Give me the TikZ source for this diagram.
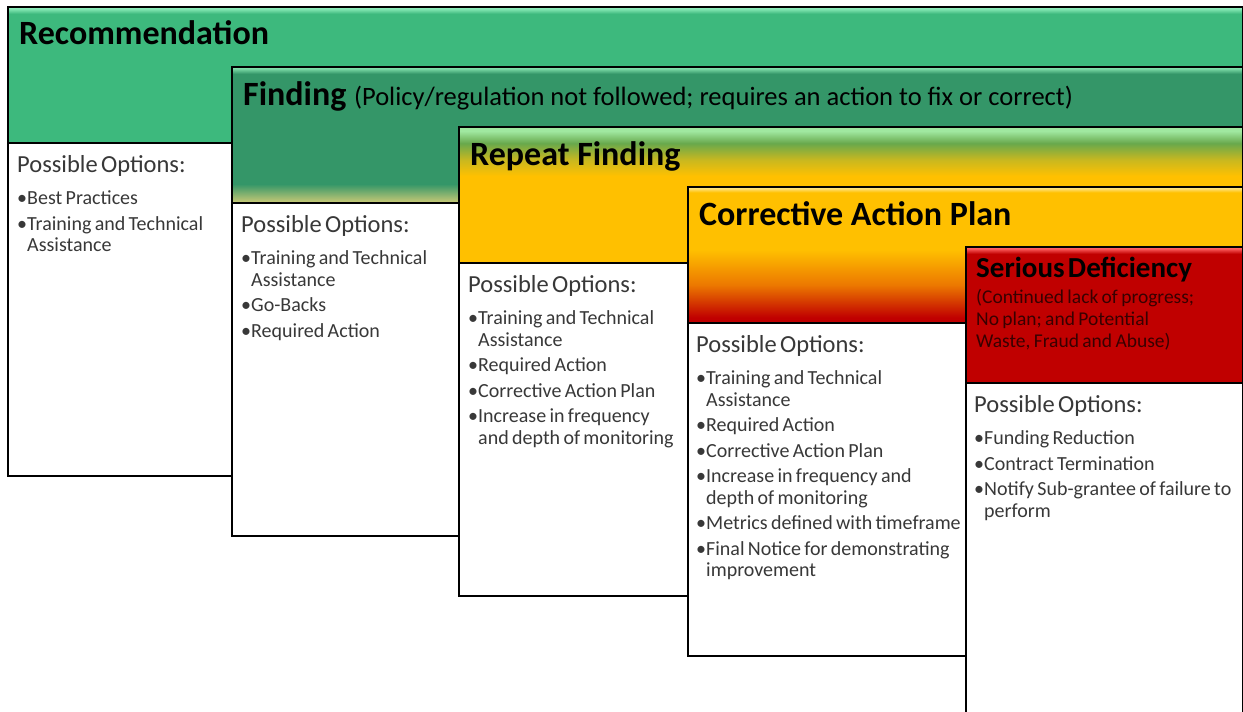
\documentclass[tikz,border=0pt]{standalone}
\usepackage{fontspec}
\setmainfont{Carlito}
\usepackage{tikz}
\usetikzlibrary{positioning}

\definecolor{recgreen}{RGB}{61,185,125}
\definecolor{reclight}{RGB}{140,236,186}
\definecolor{fingreen}{RGB}{52,150,104}
\definecolor{finlight}{RGB}{128,222,170}
\definecolor{finyellow}{RGB}{204,202,118}
\definecolor{replight}{RGB}{160,232,160}
\definecolor{repgreen}{RGB}{104,168,76}
\definecolor{repolive}{RGB}{200,184,32}
\definecolor{gold}{RGB}{255,192,0}
\definecolor{goldlight}{RGB}{255,226,122}
\definecolor{caporange}{RGB}{236,120,0}
\definecolor{sdred}{RGB}{192,0,0}
\definecolor{sdlight}{RGB}{255,96,96}
\definecolor{sdtext}{RGB}{56,0,0}

\pgfdeclareverticalshading{recshade}{100bp}{color(0bp)=(recgreen); color(25bp)=(recgreen); color(72.5bp)=(recgreen); color(74.5bp)=(reclight); color(100bp)=(reclight)}
\pgfdeclareverticalshading{finshade}{100bp}{color(0bp)=(finyellow); color(25bp)=(finyellow); color(32bp)=(fingreen); color(72.5bp)=(fingreen); color(74.5bp)=(finlight); color(100bp)=(finlight)}
\pgfdeclareverticalshading{repshade}{100bp}{color(0bp)=(gold); color(57bp)=(gold); color(63bp)=(repolive); color(69bp)=(repgreen); color(73.5bp)=(replight); color(100bp)=(replight)}
\pgfdeclareverticalshading{capshade}{100bp}{color(0bp)=(sdred); color(27bp)=(sdred); color(39bp)=(caporange); color(52bp)=(gold); color(73bp)=(gold); color(74.5bp)=(goldlight); color(100bp)=(goldlight)}
\pgfdeclareverticalshading{sdshade}{100bp}{color(0bp)=(sdred); color(72.5bp)=(sdred); color(74.5bp)=(sdlight); color(100bp)=(sdlight)}

\tikzstyle{stagehead} = [rectangle, anchor=north west, draw=black, line width=1.2pt, shade, minimum height=136pt, inner sep=0pt, outer sep=0pt]
\tikzstyle{stagebody} = [rectangle, anchor=north west, draw=black, line width=1.2pt, fill=white, minimum height=333pt, inner sep=0pt, outer sep=0pt]
\tikzstyle{stagetitle} = [anchor=base west, inner sep=0pt, font=\fontsize{34}{40}\selectfont\bfseries]
\tikzstyle{optlist} = [anchor=base west, inner sep=0pt, align=left, text=black!78]

\newcommand{\opthead}{{\fontsize{24.5}{29}\selectfont Possible Options:\par}\vspace{7pt}\fontsize{20}{21.5}\selectfont}
\newcommand{\opt}[1]{\par\vspace{4pt}\hangindent=10pt\hangafter=1\noindent\makebox[10pt][l]{\textbullet}#1\par}

\begin{document}
\begin{tikzpicture}[x=1pt, y=-1pt]
\useasboundingbox (0,0) rectangle (1243,712);
\clip (0,0) rectangle (1243,712);

%Layer 1==============================================
\node (hd1) [stagehead, shading=recshade, minimum width=1235pt] at (8,7) {};
\node (bd1) [stagebody, minimum width=1235pt] at (hd1.south west) {};
\node (t1) [stagetitle, xshift=11pt, yshift=-38pt] at (hd1.north west) {Recommendation};
\node (op1) [optlist, text width=210pt, xshift=9pt, yshift=-29pt] at (bd1.north west) {\opthead
	\opt{Best Practices}
	\opt{Training and Technical\newline Assistance}};

%Layer 2==============================================
\node (hd2) [stagehead, shading=finshade, minimum width=1011pt] at (232,67) {};
\node (bd2) [stagebody, minimum width=1011pt] at (hd2.south west) {};
\node (t2) [stagetitle, xshift=11pt, yshift=-38pt] at (hd2.north west) {Finding {\fontsize{26.5}{31}\selectfont\mdseries (Policy/regulation not followed; requires an action to fix or correct)}};
\node (op2) [optlist, text width=212pt, xshift=9pt, yshift=-29pt] at (bd2.north west) {\opthead
	\opt{Training and Technical\newline Assistance}
	\opt{Go-Backs}
	\opt{Required Action}};

%Layer 3==============================================
\node (hd3) [stagehead, shading=repshade, minimum width=784pt] at (459,127) {};
\node (bd3) [stagebody, minimum width=784pt] at (hd3.south west) {};
\node (t3) [stagetitle, xshift=11pt, yshift=-38pt] at (hd3.north west) {Repeat Finding};
\node (op3) [optlist, text width=214pt, xshift=9pt, yshift=-29pt] at (bd3.north west) {\opthead
	\opt{Training and Technical\newline Assistance}
	\opt{Required Action}
	\opt{Corrective Action Plan}
	\opt{Increase in frequency\newline and depth of monitoring}};

%Layer 4==============================================
\node (hd4) [stagehead, shading=capshade, minimum width=555pt] at (688,187) {};
\node (bd4) [stagebody, minimum width=555pt] at (hd4.south west) {};
\node (t4) [stagetitle, xshift=11pt, yshift=-38pt] at (hd4.north west) {Corrective Action Plan};
\node (op4) [optlist, text width=266pt, xshift=8pt, yshift=-29pt] at (bd4.north west) {\opthead
	\opt{Training and Technical\newline Assistance}
	\opt{Required Action}
	\opt{Corrective Action Plan}
	\opt{Increase in frequency and\newline depth of monitoring}
	\opt{Metrics defined with timeframe}
	\opt{Final Notice for demonstrating\newline improvement}};

%Layer 5==============================================
\node (hd5) [stagehead, shading=sdshade, minimum width=277pt] at (966,247) {};
\node (bd5) [stagebody, minimum width=277pt] at (hd5.south west) {};
\node (t5) [optlist, text=black, text width=262pt, xshift=10pt, yshift=-30pt] at (hd5.north west) {{\fontsize{29}{34}\selectfont\bfseries Serious Deficiency\par}\vspace{4pt}
	{\fontsize{19.5}{22}\selectfont\color{sdtext}(Continued lack of progress;\newline No plan; and Potential\newline Waste, Fraud and Abuse)\par}};
\node (op5) [optlist, text width=262pt, xshift=8pt, yshift=-29pt] at (bd5.north west) {\opthead
	\opt{Funding Reduction}
	\opt{Contract Termination}
	\opt{Notify Sub-grantee of failure to\newline perform}};
\end{tikzpicture}
\end{document}
